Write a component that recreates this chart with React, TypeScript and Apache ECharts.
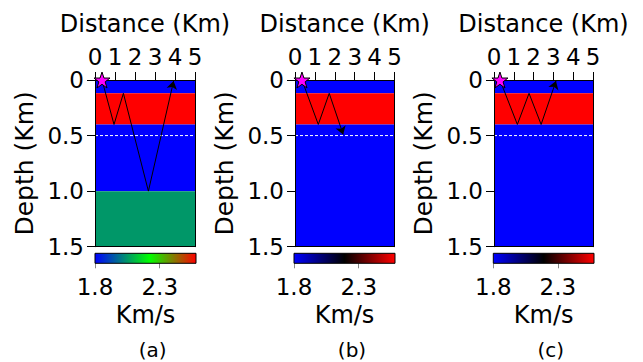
import React, { useEffect, useRef } from 'react';
import * as echarts from 'echarts';

// ---------- data ----------
const distanceRange = [0, 5];
const distanceTicks = [0, 1, 2, 3, 4, 5];
const depthRange = [0, 1.5];
const depthTicks = [0, 0.5, 1.0, 1.5];
const panelLabels = ['(a)', '(b)', '(c)'];

// layer [top, bottom] depth (Km) and velocity (Km/s)
const layerBoundsA = [[0, 0.12], [0.12, 0.4], [0.4, 1.0], [1.0, 1.5]];
const layerVelA = [1.8, 2.58, 1.8, 2.05];
const layerBoundsB = [[0, 0.12], [0.12, 0.4], [0.4, 1.5]];
const layerVelB = [1.8, 2.58, 1.8];
const layerBoundsC = [[0, 0.12], [0.12, 0.4], [0.4, 1.5]];
const layerVelC = [1.8, 2.58, 1.8];

// ray paths [distance, depth]
const rayA = [[0.35, 0], [0.95, 0.4], [1.42, 0.12], [2.67, 1.0], [3.93, 0.01]];
const rayB = [[0.35, 0], [1.17, 0.4], [1.72, 0.12], [2.42, 0.49]];
const rayC = [[0.3, 0], [1.18, 0.4], [1.77, 0.12], [2.38, 0.4], [3.13, 0.01]];
const sources = [[0.35, 0], [0.35, 0], [0.3, 0]];
const markerDepth = 0.5;

const cbarRange = [1.8, 2.58];
const cbarTicks = [1.8, 2.3];

// colormaps (position, color)
const cmapJet: [number, string][] = [[0, '#0000ff'], [0.54, '#00ff00'], [1, '#ff0000']];
const cmapBkr: [number, string][] = [[0, '#0000ff'], [0.5, '#000000'], [1, '#ff0000']];

// ---------- helpers ----------
const FONT = 'DejaVu Sans';

function hexToRgb(h: string) {
  return [parseInt(h.slice(1, 3), 16), parseInt(h.slice(3, 5), 16), parseInt(h.slice(5, 7), 16)];
}
function velColor(v: number, cmap: [number, string][]) {
  const t = Math.max(0, Math.min(1, (v - cbarRange[0]) / (cbarRange[1] - cbarRange[0])));
  for (let i = 0; i < cmap.length - 1; i++) {
    const [t0, c0] = cmap[i];
    const [t1, c1] = cmap[i + 1];
    if (t <= t1) {
      const f = (t - t0) / (t1 - t0);
      const a = hexToRgb(c0);
      const b = hexToRgb(c1);
      const c = a.map((x, k) => Math.round(x + (b[k] - x) * f));
      return `rgb(${c[0]},${c[1]},${c[2]})`;
    }
  }
  return cmap[cmap.length - 1][1];
}

const STAR = 'path://M50,2 L61.5,36 L97,36 L68.5,57.5 L79.5,92 L50,71 L20.5,92 L31.5,57.5 L3,36 L38.5,36 Z';

export default function App() {
  const ref = useRef<HTMLDivElement>(null);

  useEffect(() => {
    if (!ref.current) return;
    const chart = echarts.init(ref.current, undefined, { renderer: 'svg' });

    const panels = [
      { left: 95, width: 100, bounds: layerBoundsA, vel: layerVelA, ray: rayA, cmap: cmapJet, cbLeft: 95, cbWidth: 101, label: [152.6, 350] },
      { left: 295, width: 99.5, bounds: layerBoundsB, vel: layerVelB, ray: rayB, cmap: cmapBkr, cbLeft: 294, cbWidth: 101, label: [352, 350] },
      { left: 494, width: 99, bounds: layerBoundsC, vel: layerVelC, ray: rayC, cmap: cmapBkr, cbLeft: 493.3, cbWidth: 100.7, label: [550.7, 350] },
    ];

    const grid: any[] = [];
    const xAxis: any[] = [];
    const yAxis: any[] = [];
    const series: any[] = [];
    const graphic: any[] = [];

    const blackLine = { show: true, onZero: false, lineStyle: { color: '#000', width: 1 } };

    panels.forEach((p, i) => {
      grid.push({ left: p.left, top: 80, width: p.width, height: 166.7 });
    });
    panels.forEach((p, i) => {
      grid.push({ left: p.cbLeft, top: 253.3, width: p.cbWidth, height: 10 });
    });

    panels.forEach((p, i) => {
      // main top x axis
      xAxis.push({
        type: 'value', gridIndex: i, position: 'top', min: distanceRange[0], max: distanceRange[1], interval: 1,
        name: 'Distance (Km)', nameLocation: 'middle', nameGap: 44,
        nameTextStyle: { fontSize: 24, color: '#000', fontFamily: FONT },
        axisLine: blackLine,
        axisTick: { show: true, length: 8, customValues: distanceTicks, lineStyle: { color: '#000', width: 1 } },
        axisLabel: { show: true, customValues: distanceTicks, fontSize: 23, color: '#000', margin: 12, fontFamily: FONT },
        splitLine: { show: false }, z: 10,
      });
      // frame bottom
      xAxis.push({
        type: 'value', gridIndex: i, position: 'bottom', min: distanceRange[0], max: distanceRange[1],
        axisLine: blackLine, axisTick: { show: false }, axisLabel: { show: false }, splitLine: { show: false }, z: 10,
      });
      yAxis.push({
        type: 'value', gridIndex: i, position: 'left', inverse: true, min: depthRange[0], max: depthRange[1], interval: 0.5,
        name: 'Depth (Km)', nameLocation: 'middle', nameGap: 58, nameRotate: 90,
        nameTextStyle: { fontSize: 25, color: '#000', fontFamily: FONT },
        axisLine: blackLine,
        axisTick: { show: true, length: 8, customValues: depthTicks, lineStyle: { color: '#000', width: 1 } },
        axisLabel: {
          show: true, customValues: depthTicks, fontSize: 23, color: '#000', margin: 11, fontFamily: FONT,
          formatter: (v: number) => (v === 0 ? '0' : v.toFixed(1)),
        },
        splitLine: { show: false }, z: 10,
      });
      yAxis.push({
        type: 'value', gridIndex: i, position: 'right', inverse: true, min: depthRange[0], max: depthRange[1],
        axisLine: blackLine, axisTick: { show: false }, axisLabel: { show: false }, splitLine: { show: false }, z: 10,
      });
    });

    panels.forEach((p, i) => {
      xAxis.push({
        type: 'value', gridIndex: 3 + i, position: 'bottom', min: cbarRange[0], max: cbarRange[1],
        name: 'Km/s', nameLocation: 'middle', nameGap: 40,
        nameTextStyle: { fontSize: 24, color: '#000', fontFamily: FONT },
        axisLine: { show: false, onZero: false },
        axisTick: { show: true, length: 5, customValues: cbarTicks, lineStyle: { color: '#888', width: 1 } },
        axisLabel: {
          show: true, customValues: cbarTicks, fontSize: 23, color: '#000', margin: 12, fontFamily: FONT,
          formatter: (v: number) => v.toFixed(1),
        },
        splitLine: { show: false },
      });
      yAxis.push({ type: 'value', gridIndex: 3 + i, min: 0, max: 1, show: false });
    });

    panels.forEach((p, i) => {
      const xi = 2 * i;
      const yi = 2 * i;
      // layers
      series.push({
        type: 'custom', xAxisIndex: xi, yAxisIndex: yi, z: 1, silent: true, clip: false,
        encode: { x: [0, 1], y: [2, 3] },
        data: p.bounds.map((b, k) => [distanceRange[0], distanceRange[1], b[0], b[1], p.vel[k]]),
        renderItem: (params: any, api: any) => {
          const a = api.coord([api.value(0), api.value(2)]);
          const b = api.coord([api.value(1), api.value(3)]);
          return {
            type: 'rect',
            shape: { x: Math.min(a[0], b[0]), y: Math.min(a[1], b[1]), width: Math.abs(b[0] - a[0]), height: Math.abs(b[1] - a[1]) },
            style: { fill: velColor(api.value(4), p.cmap), stroke: null },
          };
        },
      });
      // dashed marker line
      series.push({
        type: 'line', xAxisIndex: xi, yAxisIndex: yi, z: 3, silent: true, symbol: 'none',
        data: [[distanceRange[0], markerDepth], [distanceRange[1], markerDepth]],
        lineStyle: { color: '#fff', width: 1, type: [3, 2] },
      });
      // ray segments
      const segs = p.ray.slice(0, -1).map((pt, k) => ({ coords: [pt, p.ray[k + 1]] }));
      series.push({
        type: 'lines', coordinateSystem: 'cartesian2d', xAxisIndex: xi, yAxisIndex: yi, z: 4, silent: true, clip: false,
        symbol: 'none', lineStyle: { color: '#000', width: 1, opacity: 1, curveness: 0 },
        data: segs.slice(0, -1),
      });
      series.push({
        type: 'lines', coordinateSystem: 'cartesian2d', xAxisIndex: xi, yAxisIndex: yi, z: 4, silent: true, clip: false,
        symbol: ['none', 'arrow'], symbolSize: 8, lineStyle: { color: '#000', width: 1, opacity: 1, curveness: 0 },
        itemStyle: { color: '#000' },
        data: segs.slice(-1),
      });
      // source star
      series.push({
        type: 'scatter', xAxisIndex: xi, yAxisIndex: yi, z: 20, silent: true, clip: false,
        symbol: STAR, symbolSize: 16,
        itemStyle: { color: '#ff00ff', borderColor: '#000', borderWidth: 1, opacity: 1 },
        data: [sources[i]],
      });
      // colorbar
      series.push({
        type: 'custom', xAxisIndex: 6 + i, yAxisIndex: 6 + i, z: 2, silent: true, clip: false,
        encode: { x: [0, 1] },
        data: [[cbarRange[0], cbarRange[1]]],
        renderItem: (params: any, api: any) => {
          const a = api.coord([api.value(0), 1]);
          const b = api.coord([api.value(1), 0]);
          return {
            type: 'rect',
            shape: { x: a[0], y: a[1], width: b[0] - a[0], height: b[1] - a[1] },
            style: {
              fill: new echarts.graphic.LinearGradient(0, 0, 1, 0, p.cmap.map(([o, c]) => ({ offset: o, color: c }))),
              stroke: '#000', lineWidth: 1,
            },
          };
        },
      });
      graphic.push({
        type: 'text', x: p.label[0], y: p.label[1],
        style: { text: panelLabels[i], fontSize: 20, fill: '#000', fontFamily: FONT, textAlign: 'center', textVerticalAlign: 'middle' },
      });
    });

    chart.setOption({
      animation: false,
      backgroundColor: '#fff',
      textStyle: { fontFamily: FONT },
      grid, xAxis, yAxis, series, graphic,
    });

    return () => chart.dispose();
  }, []);

  return <div ref={ref} style={{ position: 'absolute', left: 0, top: 0, width: 643, height: 362 }} />;
}
